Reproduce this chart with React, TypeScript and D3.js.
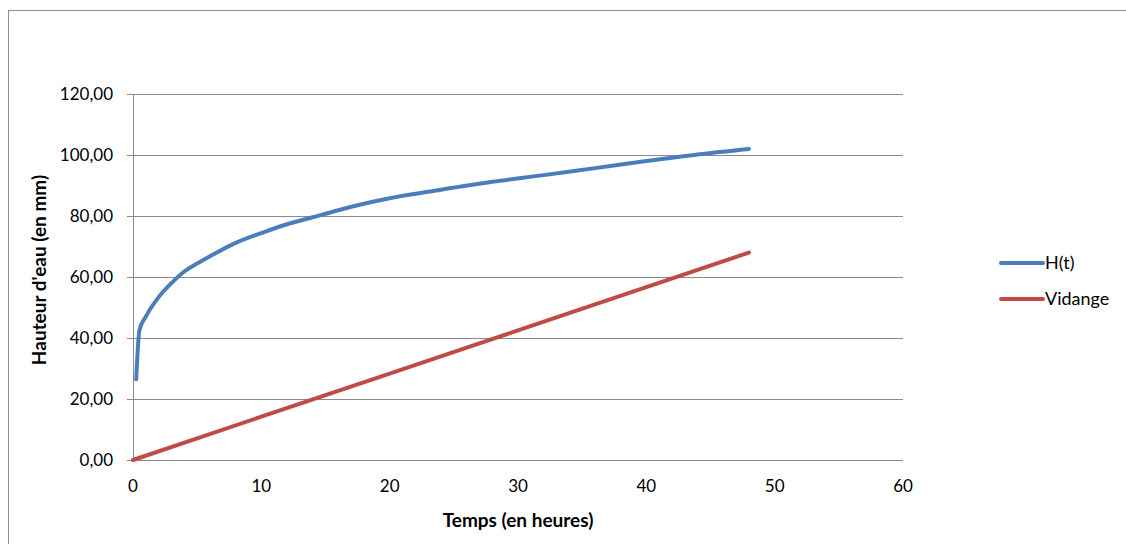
import * as d3 from 'd3';
import { useEffect, useRef } from 'react';

// H(t) (hours, mm)
const hTimes = [0.25, 0.5, 1, 2, 3, 4, 5, 6, 8, 10, 12, 14, 16, 18, 20, 24, 28, 32, 36, 40, 44, 48];
const hValues = [26.5, 42.5, 47, 53.4, 58, 61.8, 64.4, 66.8, 71.2, 74.4, 77.3, 79.6, 81.9, 84, 85.8, 88.6, 91.2, 93.4, 95.7, 98, 100.2, 102];

// Vidange
const vTimes = [0, 10, 20, 30, 40, 48];
const vValues = [0, 14.2, 28.3, 42.5, 56.7, 68];

const yTicks = [0, 20, 40, 60, 80, 100, 120];
const xTicks = [0, 10, 20, 30, 40, 50, 60];
const seriesNames = ['H(t)', 'Vidange'];
const colors = ['#4A7EBB', '#BE4B48'];

function App() {
    const svgRef = useRef<SVGSVGElement>(null);

    useEffect(() => {
        const W = 1126;
        const H = 544;
        const font = "Lato, 'Open Sans', sans-serif";
        const svg = d3.select(svgRef.current);
        svg.selectAll('*').remove();
        svg.attr('width', W).attr('height', H);

        // chart frame (runs off the right and bottom edge)
        svg.append('rect')
            .attr('x', 8.5).attr('y', 10.5)
            .attr('width', 1140).attr('height', 560)
            .attr('fill', 'white')
            .attr('stroke', '#8c8c8c');

        const xScale = d3.scaleLinear().domain([0, 60]).range([133, 903]);
        const yScale = d3.scaleLinear().domain([0, 120]).range([460, 94]);

        // gridlines
        svg.append('g')
            .selectAll('line')
            .data(yTicks.slice(1))
            .join('line')
                .attr('x1', 127).attr('x2', xScale(60))
                .attr('y1', d => Math.round(yScale(d)) + 0.5)
                .attr('y2', d => Math.round(yScale(d)) + 0.5)
                .attr('stroke', '#8a8a8a');

        // axes
        svg.append('line')
            .attr('x1', 127).attr('x2', xScale(60))
            .attr('y1', yScale(0) + 0.5).attr('y2', yScale(0) + 0.5)
            .attr('stroke', '#8a8a8a');
        svg.append('line')
            .attr('x1', xScale(0) + 0.5).attr('x2', xScale(0) + 0.5)
            .attr('y1', yScale(120)).attr('y2', yScale(0))
            .attr('stroke', '#8a8a8a');

        const fmt = (v: number) => v.toFixed(2).replace('.', ',');

        svg.append('g')
            .selectAll('text')
            .data(yTicks)
            .join('text')
                .attr('x', 113)
                .attr('y', d => yScale(d))
                .attr('dy', '0.35em')
                .attr('text-anchor', 'end')
                .style('font-family', font)
                .style('font-size', '17px')
                .attr('fill', '#000')
                .text(fmt);

        svg.append('g')
            .selectAll('text')
            .data(xTicks)
            .join('text')
                .attr('x', d => xScale(d))
                .attr('y', 492)
                .attr('text-anchor', 'middle')
                .style('font-family', font)
                .style('font-size', '17px')
                .attr('fill', '#000')
                .text(d => String(d));

        svg.append('text')
            .attr('x', xScale(30)).attr('y', 527)
            .attr('text-anchor', 'middle')
            .style('font-family', font)
            .style('font-size', '19px')
            .style('font-weight', 'bold')
            .text('Temps (en heures)');

        svg.append('text')
            .attr('transform', 'translate(46, 270) rotate(-90)')
            .attr('text-anchor', 'middle')
            .style('font-family', font)
            .style('font-size', '19px')
            .style('font-weight', 'bold')
            .text("Hauteur d'eau (en mm)");

        const line = d3.line<[number, number]>()
            .x(d => xScale(d[0]))
            .y(d => yScale(d[1]))
            .curve(d3.curveMonotoneX);

        const series: [number, number][][] = [
            hTimes.map((t, i) => [t, hValues[i]]),
            vTimes.map((t, i) => [t, vValues[i]]),
        ];

        svg.append('g')
            .selectAll('path')
            .data(series)
            .join('path')
                .attr('d', d => line(d))
                .attr('fill', 'none')
                .attr('stroke', (d, i) => colors[i])
                .attr('stroke-width', 4)
                .attr('stroke-linecap', 'round')
                .attr('stroke-linejoin', 'round');

        // legend
        const legend = svg.append('g')
            .selectAll('g')
            .data(seriesNames)
            .join('g')
                .attr('transform', (d, i) => `translate(1000, ${263 + i * 36})`);
        legend.append('line')
            .attr('x1', 1).attr('x2', 43)
            .attr('stroke', (d, i) => colors[i])
            .attr('stroke-width', 4)
            .attr('stroke-linecap', 'round');
        legend.append('text')
            .attr('x', 45)
            .attr('dy', '0.35em')
            .style('font-family', font)
            .style('font-size', '18px')
            .text(d => d);
    }, []);

    return (
        <div>
            <svg ref={svgRef} style={{ position: 'absolute', left: 0, top: 0 }}></svg>
        </div>
    );
}

export default App;
